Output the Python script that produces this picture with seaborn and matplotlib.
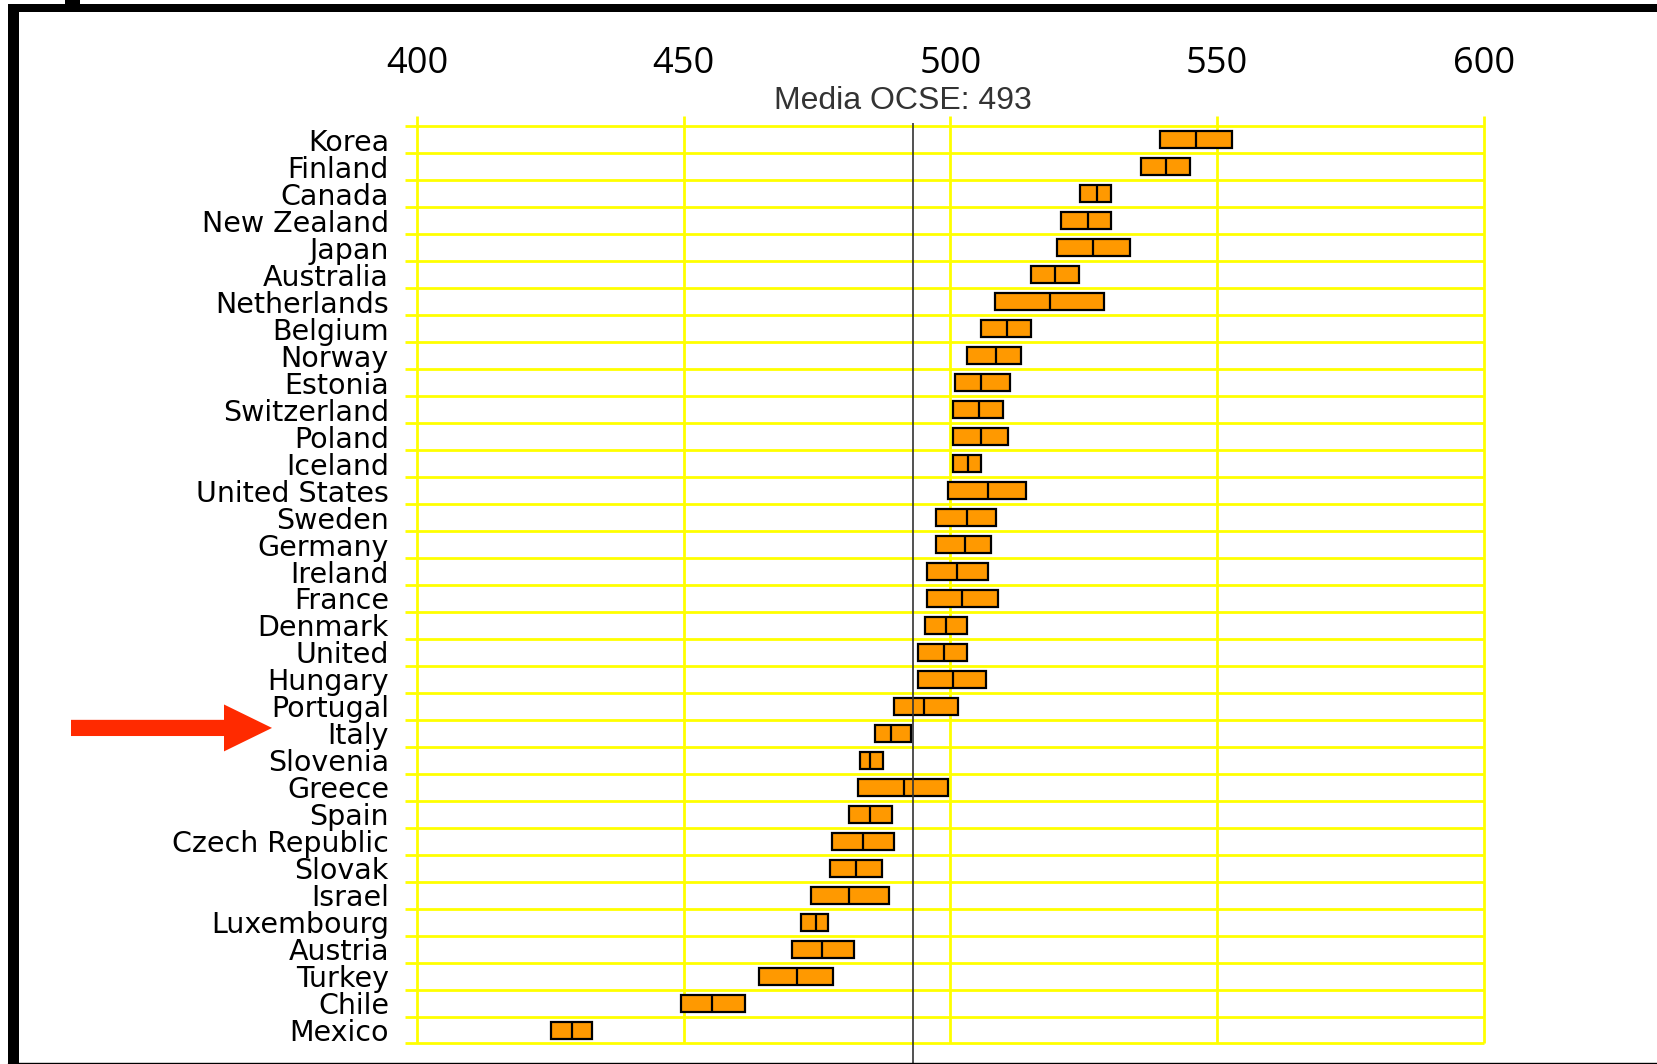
import numpy as np
import pandas as pd
import matplotlib
matplotlib.use("Agg")
import matplotlib.pyplot as plt
import matplotlib.transforms as mtransforms
from matplotlib.patches import Rectangle, Polygon
from matplotlib.lines import Line2D
import seaborn as sns

# ---------------- data ----------------
countries = ["Korea", "Finland", "Canada", "New Zealand", "Japan", "Australia",
             "Netherlands", "Belgium", "Norway", "Estonia", "Switzerland", "Poland",
             "Iceland", "United States", "Sweden", "Germany", "Ireland", "France",
             "Denmark", "United", "Hungary", "Portugal", "Italy", "Slovenia",
             "Greece", "Spain", "Czech Republic", "Slovak", "Israel", "Luxembourg",
             "Austria", "Turkey", "Chile", "Mexico"]
ci_low = [539.3, 535.8, 524.3, 520.8, 519.9, 515.0, 508.4, 505.7, 503.1, 500.8,
          500.4, 500.4, 500.4, 499.5, 497.3, 497.3, 495.6, 495.6, 495.2, 493.9,
          493.9, 489.4, 485.8, 483.1, 482.7, 480.9, 477.8, 477.4, 473.8, 472.0,
          470.2, 464.1, 449.5, 425.2]
mean_score = [546.1, 540.3, 527.5, 525.7, 526.7, 519.5, 518.6, 510.6, 508.5, 505.8,
              505.3, 505.7, 503.2, 507.0, 503.1, 502.7, 501.3, 502.2, 499.2, 498.7,
              500.5, 495.1, 488.9, 485.0, 491.2, 485.0, 483.6, 482.3, 480.9, 474.8,
              476.0, 471.2, 455.3, 429.1]
ci_high = [552.8, 544.8, 530.1, 530.1, 533.7, 524.0, 528.8, 515.1, 513.3, 511.2,
           509.8, 510.7, 505.8, 514.2, 508.5, 507.6, 507.1, 508.9, 503.1, 503.1,
           506.7, 501.4, 492.6, 487.3, 499.6, 489.0, 489.4, 487.2, 488.5, 477.0,
           481.9, 477.9, 461.5, 432.8]
x_ticks = [400, 450, 500, 550, 600]
oecd_mean = 493
mean_label = "Media OCSE: 493"
highlight = "Italy"

# long table for seaborn: [low, low, mean, high, high] -> Q1=low, median=mean, Q3=high
rows = []
for c, lo, m, hi in zip(countries, ci_low, mean_score, ci_high):
    for v in (lo, lo, m, hi, hi):
        rows.append({"country": c, "score": v})
df = pd.DataFrame(rows)

# ---------------- figure ----------------
W, H = 1657, 1064
sns.set_theme(style="white")
plt.rcParams["font.family"] = ["DejaVu Sans"]

fig = plt.figure(figsize=(W / 100, H / 100), dpi=100)
fig.patch.set_facecolor("white")

px_per_unit = 5.335
x_lo, x_hi = 395, 605
ax_left_px = 417 - (400 - x_lo) * px_per_unit
ax_w_px = (x_hi - x_lo) * px_per_unit
ax_top_px = 113
ax = fig.add_axes([ax_left_px / W, 0, ax_w_px / W, (H - ax_top_px) / H])
ax.set_facecolor("white")

n = len(countries)
yellow = "#ffff00"

# grid: horizontal separators and vertical lines at ticks
ax.hlines(np.arange(n + 1) - 0.5, x_ticks[0] - 2.3, x_ticks[-1], color=yellow, lw=2.0, zorder=0)
ax.vlines(x_ticks, -0.89, n - 0.5, color=yellow, lw=2.0, zorder=0)

sns.boxplot(data=df, x="score", y="country", order=countries, orient="h",
            whis=0, showcaps=False, width=0.63, color="#ff9900", saturation=1,
            linecolor="black", linewidth=1.6, fliersize=0, ax=ax, zorder=2)

# OECD mean line
ax.vlines(oecd_mean, -0.63, n + 2, color="#333333", lw=1.2, zorder=5)
ax.text(oecd_mean - 1.9, -1.15, mean_label, ha="center", va="baseline",
        fontsize=23, color="#333333", family="Liberation Sans", clip_on=False)

ax.set_xlim(x_lo, x_hi)
ax.set_ylim((H - 140) / 26.97, -1.0)
ax.xaxis.tick_top()
ax.set_xticks(x_ticks)
ax.set_xticklabels([str(t) for t in x_ticks], fontsize=26, family="Open Sans", color="black")
ax.tick_params(axis="x", length=0, pad=22)
ax.set_yticks(range(n))
ax.set_yticklabels(countries, fontsize=20.5, family="DejaVu Sans", color="black")
ax.tick_params(axis="y", length=0, pad=1)
ax.set_xlabel("")
ax.set_ylabel("")
for s in ax.spines.values():
    s.set_visible(False)

# red arrow pointing at the highlighted country
yi = countries.index(highlight) - 0.2
tr = mtransforms.blended_transform_factory(fig.transFigure, ax.transData)
arrow = Polygon([(71 / W, yi - 0.30), (224 / W, yi - 0.30), (224 / W, yi - 0.87),
                 (272 / W, yi), (224 / W, yi + 0.87), (224 / W, yi + 0.30),
                 (71 / W, yi + 0.30)], closed=True, transform=tr,
                facecolor="#ff2a00", edgecolor="none", clip_on=False)
fig.add_artist(arrow)

# frame decorations
fig.add_artist(Rectangle((8 / W, 0), 11 / W, 1060 / H, transform=fig.transFigure,
                         facecolor="black", edgecolor="none"))
fig.add_artist(Rectangle((8 / W, 1 - 12 / H), (W - 8) / W, 8 / H, transform=fig.transFigure,
                         facecolor="black", edgecolor="none"))
fig.add_artist(Rectangle((65 / W, 1 - 4 / H), 15 / W, 4 / H, transform=fig.transFigure,
                         facecolor="black", edgecolor="none"))
fig.add_artist(Line2D([8 / W, 1], [1.5 / H, 1.5 / H], transform=fig.transFigure,
                      color="black", lw=1.0))

fig.savefig("out.png", dpi=100, facecolor="white")
